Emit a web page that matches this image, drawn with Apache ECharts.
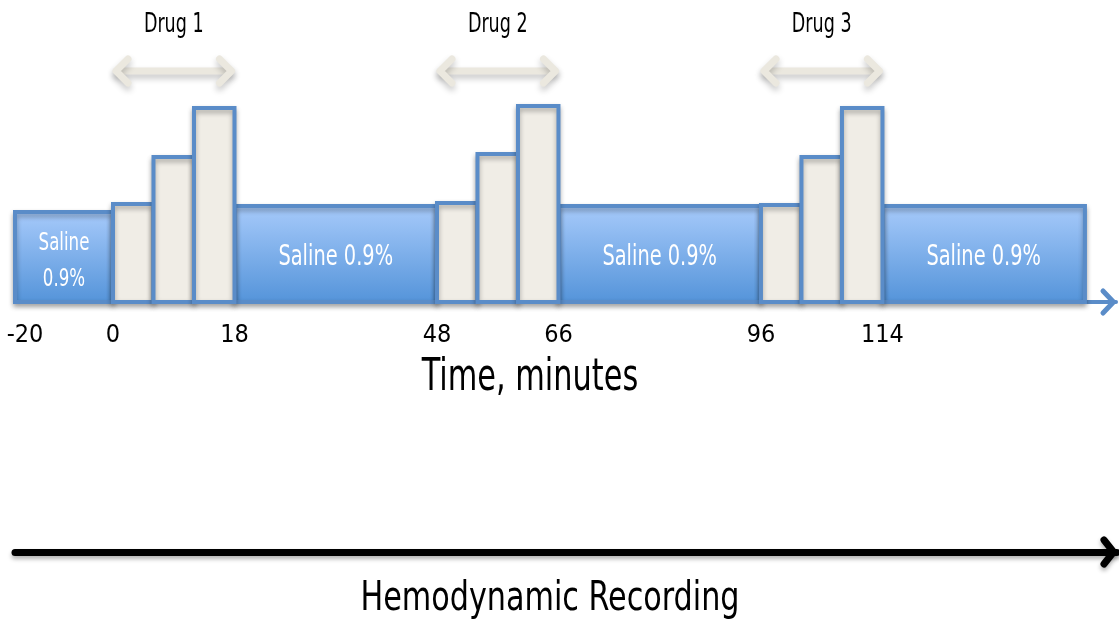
<!DOCTYPE html>
<html><head><meta charset="utf-8">
<script src="https://cdn.jsdelivr.net/npm/echarts@6/dist/echarts.min.js"></script>
<style>html,body{margin:0;padding:0;background:#fff}#c{width:1119px;height:632px}</style>
</head><body><div id="c"></div>
<script>
// ---- data ----
const preSaline = [[-20, 0, 9.0]];                 // start, end, level
const preSalineLabels = ['Saline\n0.9%'];
const salineBlocks = [[18, 48, 9.6], [66, 96, 9.6], [114, 144, 9.6]];
const salineLabels = ['Saline 0.9%', 'Saline 0.9%', 'Saline 0.9%'];
const drugSteps = [
  [0, 6, 9.8], [6, 12, 14.5], [12, 18, 19.4],
  [48, 54, 9.9], [54, 60, 14.8], [60, 66, 19.6],
  [96, 102, 9.7], [102, 108, 14.5], [108, 114, 19.4]
];
const drugRanges = [[0, 18], [48, 66], [96, 114]];
const drugNames = ['Drug 1', 'Drug 2', 'Drug 3'];
const preTicks = [-20];
const mainTicks = [0, 18, 48, 66, 96, 114];
const timeAxisEnd = [[148.6]];
const recordingEnd = [[1]];
const xTitle = 'Time, minutes';
const recTitle = 'Hemodynamic Recording';

// ---- styles ----
const FONT = "'DejaVu Sans Condensed','Open Sans',sans-serif";
const BLUE = '#5a8cc8';
const ARROW_Y = 23.1, LABEL_Y = 27.7;
const salineFill = {type: 'linear', x: 0, y: 0, x2: 0, y2: 1,
  colorStops: [{offset: 0, color: '#a8cbfb'}, {offset: 1, color: '#5393d9'}]};

function blockRender(fill, labels, fontSize, lineHeight, dy, sq) {
  return function (params, api) {
    const x0 = api.value(0), x1 = api.value(1), h = api.value(2);
    const p0 = api.coord([x0, h]), p1 = api.coord([x1, 0]);
    const children = [{
      type: 'rect',
      shape: {x: p0[0], y: p0[1], width: p1[0] - p0[0], height: p1[1] - p0[1]},
      style: {fill: fill, stroke: BLUE, lineWidth: 4,
        shadowBlur: 5, shadowOffsetY: 3, shadowColor: 'rgba(0,0,0,0.3)'}
    }];
    if (labels) {
      children.push({type: 'text', x: (p0[0] + p1[0]) / 2, y: (p0[1] + p1[1]) / 2 + dy, scaleX: sq,
        style: {text: labels[params.dataIndex], fill: '#fff', font: fontSize + 'px ' + FONT,
          align: 'center', verticalAlign: 'middle', lineHeight: lineHeight}});
    }
    return {type: 'group', children: children};
  };
}

function arrowRender(params, api) {
  const s = api.value(0), e = api.value(1);
  const p0 = api.coord([s, ARROW_Y]), p1 = api.coord([e, ARROW_Y]);
  const y = p0[1];
  const lt = api.coord([s, LABEL_Y]);
  const st = {stroke: '#ebe8df', lineWidth: 7, lineCap: 'round', lineJoin: 'round',
    shadowBlur: 6, shadowOffsetY: 4, shadowColor: 'rgba(0,0,0,0.22)', fill: null};
  return {type: 'group', children: [
    {type: 'line', shape: {x1: p0[0] + 4, y1: y, x2: p1[0] - 4, y2: y}, style: st},
    {type: 'polyline', shape: {points: [[p0[0] + 15, y - 12], [p0[0] + 3, y], [p0[0] + 15, y + 12]]}, style: st},
    {type: 'polyline', shape: {points: [[p1[0] - 15, y - 12], [p1[0] - 3, y], [p1[0] - 15, y + 12]]}, style: st},
    {type: 'text', x: (p0[0] + p1[0]) / 2, y: lt[1], scaleX: 0.75, style: {text: drugNames[params.dataIndex],
      font: '26px ' + FONT, fill: '#000', align: 'center', verticalAlign: 'middle'}}
  ]};
}

function headRender(color, w, dx, dy, shadow) {
  return function (params, api) {
    const p = api.coord([api.value(0), 0]);
    return {type: 'polyline',
      shape: {points: [[p[0] - dx, p[1] - dy], [p[0] - w / 2, p[1]], [p[0] - dx, p[1] + dy]]},
      style: {stroke: color, lineWidth: w, fill: null, lineJoin: 'round', lineCap: 'round',
        shadowBlur: shadow ? 4 : 0, shadowOffsetY: shadow ? 3 : 0, shadowColor: 'rgba(0,0,0,0.3)'}};
  };
}

const chart = echarts.init(document.getElementById('c'), null, {renderer: 'canvas'});
chart.setOption({
  animation: false,
  backgroundColor: '#fff',
  grid: [
    {left: 15, width: 98, top: 0, height: 302},
    {left: 113, width: 1003, top: 0, height: 302},
    {left: 15, right: 2, top: 540, height: 12}
  ],
  xAxis: [
    {type: 'value', gridIndex: 0, min: -20, max: 0, splitLine: {show: false},
      axisLine: {show: true, lineStyle: {color: BLUE, width: 4}}, axisTick: {show: false},
      axisLabel: {customValues: preTicks, margin: 21, padding: [0, 0, 0, 20], fontSize: 25, fontFamily: FONT, color: '#000'}},
    {type: 'value', gridIndex: 1, min: 0, max: 148.6, splitLine: {show: false},
      axisLine: {show: true, lineStyle: {color: BLUE, width: 4}}, axisTick: {show: false},
      axisLabel: {customValues: mainTicks, margin: 21, fontSize: 25, fontFamily: FONT, color: '#000'}},
    {type: 'value', gridIndex: 2, min: 0, max: 1, splitLine: {show: false},
      axisLine: {show: true,
        lineStyle: {color: '#000', width: 7, shadowBlur: 4, shadowOffsetY: 3, shadowColor: 'rgba(0,0,0,0.3)'}},
      axisTick: {show: false}, axisLabel: {show: false}}
  ],
  yAxis: [
    {type: 'value', gridIndex: 0, min: 0, max: 30.2, show: false},
    {type: 'value', gridIndex: 1, min: 0, max: 30.2, show: false},
    {type: 'value', gridIndex: 2, min: 0, max: 1, show: false}
  ],
  graphic: [
    {type: 'text', x: 530, y: 378, scaleX: 0.75, style: {text: xTitle, font: '45px ' + FONT, fill: '#000',
      align: 'center', verticalAlign: 'middle'}},
    {type: 'text', x: 550, y: 600, scaleX: 0.84, style: {text: recTitle, font: '40px ' + FONT, fill: '#000',
      align: 'center', verticalAlign: 'middle'}}
  ],
  series: [
    {type: 'custom', xAxisIndex: 0, yAxisIndex: 0, data: preSaline, encode: {x: [0, 1], y: 2},
      renderItem: blockRender(salineFill, preSalineLabels, 25, 36, 4, 0.74), z: 3},
    {type: 'custom', xAxisIndex: 1, yAxisIndex: 1, data: salineBlocks, encode: {x: [0, 1], y: 2},
      renderItem: blockRender(salineFill, salineLabels, 28, 30, 4, 0.77), z: 3},
    {type: 'custom', xAxisIndex: 1, yAxisIndex: 1, data: drugSteps, encode: {x: [0, 1], y: 2},
      renderItem: blockRender('#f0ede6', null), z: 4},
    {type: 'custom', xAxisIndex: 1, yAxisIndex: 1, data: drugRanges, encode: {x: [0, 1]},
      renderItem: arrowRender, z: 4},
    {type: 'custom', xAxisIndex: 1, yAxisIndex: 1, data: timeAxisEnd, encode: {x: 0},
      renderItem: headRender(BLUE, 5, 13, 11, false), z: 2},
    {type: 'custom', xAxisIndex: 2, yAxisIndex: 2, data: recordingEnd, encode: {x: 0},
      renderItem: headRender('#000', 7, 13, 12, true), z: 2}
  ]
});
</script></body></html>
